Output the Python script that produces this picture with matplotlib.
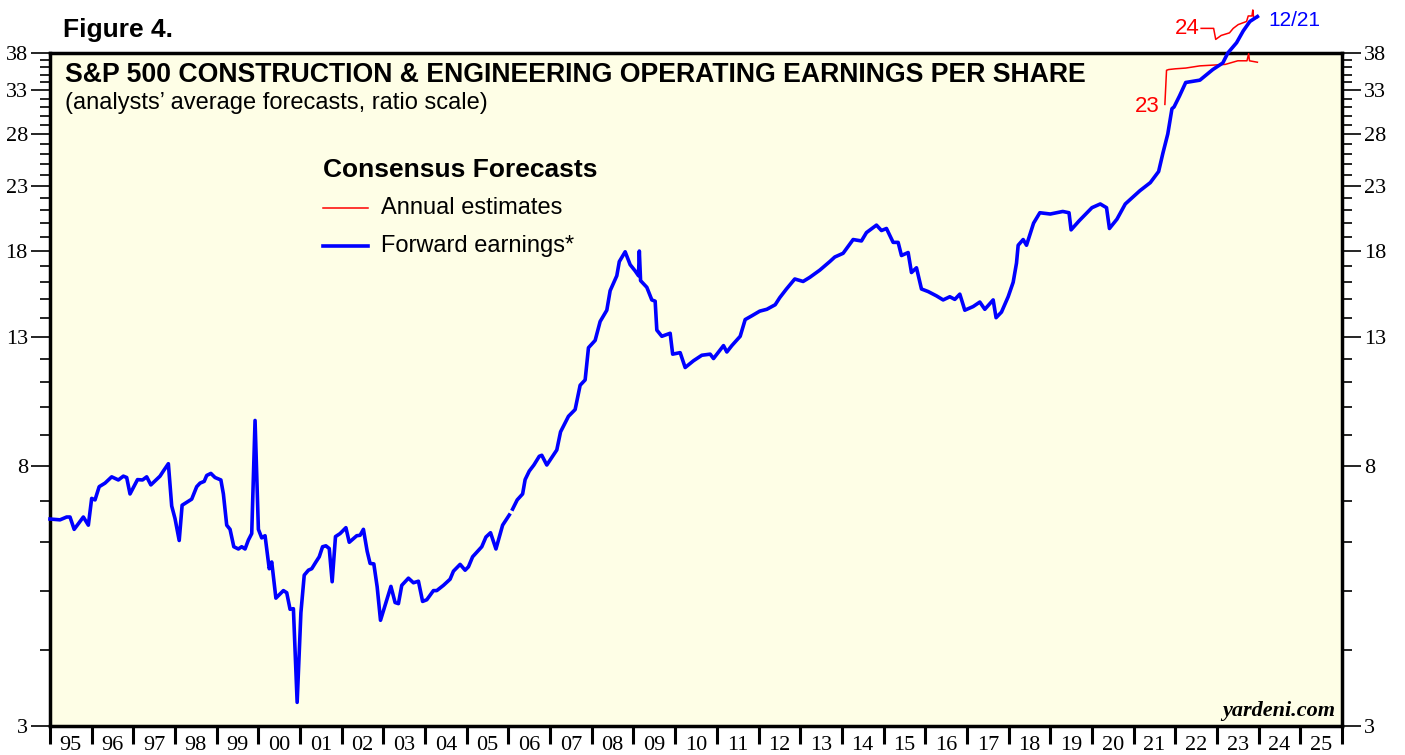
import matplotlib
matplotlib.use("Agg")
import numpy as np
import matplotlib.pyplot as plt
from matplotlib.ticker import FixedLocator, FixedFormatter, NullFormatter

# forward earnings (decimal year, value)
fwd_years = [1995.0, 1995.24, 1995.4, 1995.48, 1995.58, 1995.8, 1995.92, 1996.0, 1996.08, 1996.18,
             1996.32, 1996.48, 1996.64, 1996.76, 1996.84, 1996.92, 1997.1, 1997.22, 1997.32, 1997.42,
             1997.64, 1997.72, 1997.84, 1997.92, 1998.0, 1998.1, 1998.17, 1998.4, 1998.52, 1998.6,
             1998.7, 1998.76, 1998.86, 1998.96, 1999.1, 1999.16, 1999.24, 1999.32, 1999.41, 1999.52,
             1999.6, 1999.68, 1999.76, 1999.84, 1999.92, 2000.0, 2000.08, 2000.16, 2000.26, 2000.32,
             2000.42, 2000.6, 2000.68, 2000.76, 2000.84, 2000.93, 2001.02, 2001.1, 2001.2, 2001.28,
             2001.38, 2001.46, 2001.54, 2001.62, 2001.7, 2001.77, 2001.85, 2001.96, 2002.1, 2002.18,
             2002.36, 2002.44, 2002.52, 2002.61, 2002.68, 2002.77, 2002.85, 2002.93, 2003.06, 2003.18,
             2003.28, 2003.36, 2003.44, 2003.6, 2003.72, 2003.84, 2003.94, 2004.04, 2004.2, 2004.28,
             2004.44, 2004.6, 2004.68, 2004.84, 2004.96, 2005.04, 2005.14, 2005.36, 2005.46, 2005.57,
             2005.7, 2005.86, 2006.02, 2006.06, 2006.1, 2006.21, 2006.34, 2006.4, 2006.5, 2006.61,
             2006.74, 2006.8, 2006.92, 2007.16, 2007.25, 2007.44, 2007.6, 2007.72, 2007.84, 2007.92,
             2008.08, 2008.2, 2008.36, 2008.44, 2008.6, 2008.66, 2008.8, 2008.92, 2009.04, 2009.12,
             2009.14, 2009.17, 2009.32, 2009.44, 2009.52, 2009.56, 2009.68, 2009.88, 2009.94, 2010.12,
             2010.24, 2010.44, 2010.64, 2010.84, 2010.92, 2011.16, 2011.24, 2011.36, 2011.56, 2011.68,
             2011.84, 2012.03, 2012.2, 2012.4, 2012.51, 2012.67, 2012.87, 2013.07, 2013.23, 2013.47,
             2013.71, 2013.83, 2014.03, 2014.27, 2014.47, 2014.59, 2014.83, 2014.95, 2015.07, 2015.23,
             2015.35, 2015.43, 2015.59, 2015.67, 2015.79, 2015.91, 2016.07, 2016.27, 2016.43, 2016.59,
             2016.71, 2016.83, 2016.95, 2017.15, 2017.31, 2017.43, 2017.63, 2017.7, 2017.83, 2017.99,
             2018.11, 2018.19, 2018.23, 2018.35, 2018.43, 2018.6, 2018.75, 2019.0, 2019.3, 2019.45,
             2019.5, 2019.7, 2020.0, 2020.2, 2020.35, 2020.42, 2020.6, 2020.8, 2021.15, 2021.4,
             2021.6, 2021.7, 2021.82, 2021.92, 2021.97, 2022.1, 2022.25, 2022.59, 2022.9, 2023.14,
             2023.26, 2023.47, 2023.63, 2023.79, 2023.97]
fwd_values = [6.55, 6.53, 6.6, 6.6, 6.3, 6.6, 6.4, 7.08, 7.04, 7.4,
              7.5, 7.68, 7.59, 7.7, 7.66, 7.2, 7.6, 7.59, 7.68, 7.45,
              7.7, 7.85, 8.07, 6.88, 6.56, 6.04, 6.9, 7.06, 7.4, 7.5,
              7.55, 7.72, 7.78, 7.66, 7.59, 7.2, 6.4, 6.3, 5.9, 5.85,
              5.9, 5.85, 6.05, 6.2, 9.5, 6.3, 6.1, 6.15, 5.43, 5.57,
              4.86, 5.0, 4.96, 4.66, 4.67, 3.28, 4.6, 5.3, 5.4, 5.43,
              5.57, 5.68, 5.9, 5.92, 5.86, 5.17, 6.13, 6.2, 6.34, 6.0,
              6.15, 6.16, 6.3, 5.8, 5.54, 5.53, 5.07, 4.47, 4.78, 5.08,
              4.78, 4.76, 5.1, 5.24, 5.15, 5.18, 4.8, 4.83, 5.0, 5.0,
              5.1, 5.22, 5.38, 5.52, 5.4, 5.47, 5.68, 5.9, 6.12, 6.22,
              5.85, 6.4, 6.65, np.nan, 6.8, 7.04, 7.2, 7.6, 7.85, 8.03,
              8.3, 8.33, 8.03, 8.5, 9.1, 9.65, 9.9, 10.85, 11.07, 12.5,
              12.85, 13.8, 14.4, 15.5, 16.4, 17.3, 17.95, 17.1, 16.7, 16.4,
              18.0, 16.1, 15.7, 14.97, 14.9, 13.36, 13.05, 13.2, 12.2, 12.27,
              11.6, 11.9, 12.15, 12.2, 12.0, 12.6, 12.3, 12.6, 13.05, 13.9,
              14.1, 14.35, 14.45, 14.7, 15.1, 15.6, 16.2, 16.05, 16.3, 16.75,
              17.3, 17.6, 17.85, 18.8, 18.7, 19.3, 19.85, 19.45, 19.6, 18.6,
              18.6, 17.7, 17.9, 16.6, 16.9, 15.6, 15.45, 15.2, 14.97, 15.15,
              15.0, 15.3, 14.4, 14.6, 14.85, 14.45, 14.97, 14.0, 14.3, 15.15,
              16.0, 17.2, 18.4, 18.8, 18.4, 20.0, 20.8, 20.7, 20.9, 20.8,
              19.5, 20.2, 21.2, 21.5, 21.2, 19.6, 20.3, 21.5, 22.6, 23.3,
              24.3, 26.0, 28.0, 30.8, 31.0, 32.3, 34.0, 34.3, 35.7, 36.6,
              38.0, 39.5, 41.3, 42.8, 43.6]

# annual estimates for 2023 and 2024
est23_years = [2021.75, 2021.79, 2021.84, 2022.0, 2022.25, 2022.59, 2022.9, 2023.2, 2023.5,
               2023.72, 2023.76, 2023.78, 2023.97]
est23_values = [31.3, 35.6, 35.7, 35.8, 35.9, 36.2, 36.3, 36.4, 36.9, 36.9, 37.9, 36.9, 36.7]
est24_years = [2022.62, 2022.92, 2022.97, 2023.1, 2023.3, 2023.39, 2023.51, 2023.71, 2023.75,
               2023.84, 2023.86, 2023.88, 2023.97]
est24_values = [41.7, 41.7, 40.0, 40.6, 41.0, 41.7, 42.3, 42.8, 43.7, 43.7, 44.7, 43.4, 43.4]

year_ticks = list(range(1995, 2027))
year_labels = ["%02d" % (y % 100) for y in range(1995, 2026)]
y_major = [3, 8, 13, 18, 23, 28, 33, 38]

SANS = "Liberation Sans"
SERIF = "Liberation Serif"
BLUE = "#0000ff"
RED = "#ff0000"

fig = plt.figure(figsize=(14.05, 7.55), dpi=100)
ax = fig.add_axes([50 / 1405, 29 / 755, 1292 / 1405, 673 / 755])
ax.set_facecolor("#fefee6")

ax.plot(fwd_years, fwd_values, color=BLUE, lw=2.6, clip_on=False, zorder=4)
ax.plot(est23_years, est23_values, color=RED, lw=1.1, clip_on=False, zorder=3)
ax.plot(est24_years, est24_values, color=RED, lw=1.1, clip_on=False, zorder=3)

ax.set_yscale("log")
ax.set_ylim(3, 38)
ax.set_xlim(1995, 2026)

# y axis: labels on both sides, minor ticks at every integer
ax.yaxis.set_major_locator(FixedLocator(y_major))
ax.yaxis.set_major_formatter(FixedFormatter([str(v) for v in y_major]))
ax.yaxis.set_minor_locator(FixedLocator([v for v in range(3, 39) if v not in y_major]))
ax.yaxis.set_minor_formatter(NullFormatter())
ax.tick_params(axis="y", which="major", direction="out", length=14, width=1.2,
               left=True, right=True, labelleft=True, labelright=True, labelsize=16, pad=2)
ax.tick_params(axis="y", which="minor", direction="out", length=7, width=1.2,
               left=True, right=True)

# x axis: year ticks with labels centred between them
ax.set_xticks(year_ticks)
ax.set_xticklabels([])
ax.tick_params(axis="x", which="major", direction="out", length=13, width=2.2)
ax.xaxis.set_minor_locator(FixedLocator([y + 0.5 for y in range(1995, 2026)]))
ax.xaxis.set_minor_formatter(FixedFormatter(year_labels))
ax.tick_params(axis="x", which="minor", length=0, labelsize=16, pad=7)

for t in ax.yaxis.get_major_ticks():
    t.label1.set_fontfamily(SERIF)
    t.label2.set_fontfamily(SERIF)
for t in ax.xaxis.get_minor_ticks():
    t.label1.set_fontfamily(SERIF)

for s in ax.spines.values():
    s.set_linewidth(2.5)
    s.set_color("black")


def fx(px):
    return px / 1405


def fy(py):
    return 1 - py / 755


fig.text(fx(63), fy(30), "Figure 4.", fontsize=19, fontweight="bold", family=SANS, va="center")
fig.text(fx(65), fy(75), "S&P 500 CONSTRUCTION & ENGINEERING OPERATING EARNINGS PER SHARE",
         fontsize=19.2, fontweight="bold", family=SANS, va="center")
fig.text(fx(65), fy(103), "(analysts\u2019 average forecasts, ratio scale)",
         fontsize=17, family=SANS, va="center")

fig.text(fx(323), fy(170), "Consensus Forecasts", fontsize=19, fontweight="bold", family=SANS, va="center")
fig.add_artist(plt.Line2D([fx(323), fx(368)], [fy(208), fy(208)], color=RED, lw=1.1))
fig.add_artist(plt.Line2D([fx(323), fx(368)], [fy(246), fy(246)], color=BLUE, lw=2.6))
fig.text(fx(381), fy(208), "Annual estimates", fontsize=17, family=SANS, va="center")
fig.text(fx(381), fy(246), "Forward earnings*", fontsize=17, family=SANS, va="center")

fig.text(fx(1200), fy(29), "24", fontsize=16, family=SANS, color=RED, va="center", ha="right")
fig.text(fx(1160), fy(107), "23", fontsize=16, family=SANS, color=RED, va="center", ha="right")
fig.text(fx(1268), fy(20), "12/21", fontsize=15, family=SANS, color=BLUE, va="center")

fig.text(fx(1335), fy(711), "yardeni.com", fontsize=16, fontweight="bold", fontstyle="italic",
         family=SERIF, va="center", ha="right")

fig.savefig("out.png", dpi=100, facecolor="white")
